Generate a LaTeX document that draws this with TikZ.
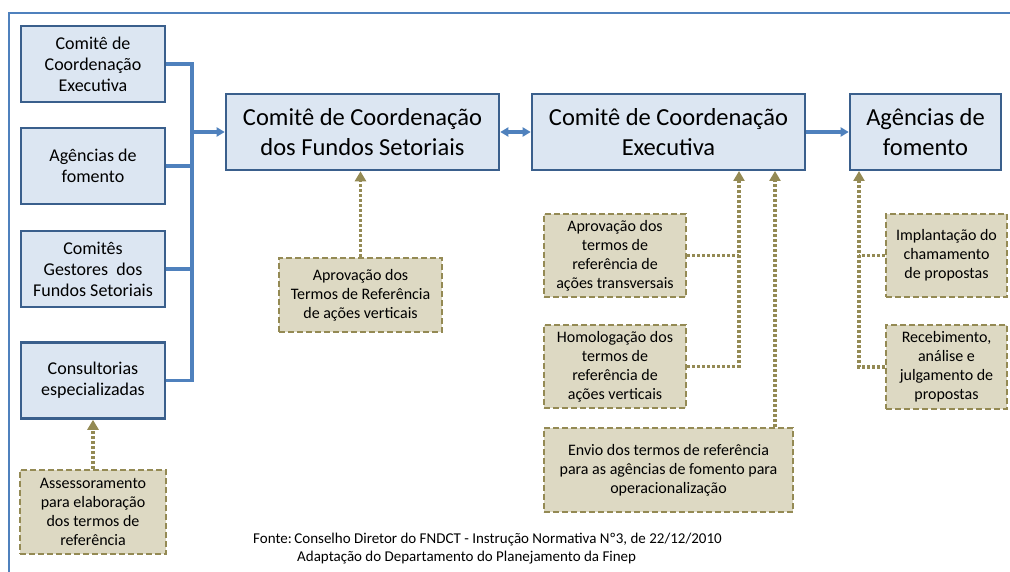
\documentclass[tikz,border=0pt]{standalone}
\usepackage{fontspec}
\setmainfont{Carlito}
\usetikzlibrary{arrows.meta}
\definecolor{bfill}{HTML}{DCE6F2}
\definecolor{bdraw}{HTML}{3A5F8C}
\definecolor{bline}{HTML}{4F81BD}
\definecolor{ofill}{HTML}{DDD9C3}
\definecolor{odraw}{HTML}{948A54}
\begin{document}
\begin{tikzpicture}[x=1pt,y=-1pt,
  bluebox/.style={draw=bdraw, fill=bfill, line width=2.6pt, align=center, inner sep=2pt},
  smallblue/.style={bluebox, minimum width=144pt, minimum height=76pt, font=\fontsize{18}{21}\selectfont},
  bigblue/.style={bluebox, minimum height=76pt, font=\fontsize{24.5}{30}\selectfont},
  tanbox/.style={draw=odraw, fill=ofill, line width=2.4pt, dash pattern=on 6pt off 3pt, align=center, inner sep=2pt, font=\fontsize{16}{19}\selectfont},
  busline/.style={draw=bline, line width=3.5pt},
  busarrow/.style={busline, -{Triangle[length=8pt,width=9pt]}},
  dotline/.style={draw=odraw, line width=3.5pt, dash pattern=on 3pt off 2pt},
  dotarrow/.style={dotline, -{Triangle[length=10pt,width=11pt]}}
]
\useasboundingbox (0,0) rectangle (1010,572);
\draw[bline, line width=2.5pt] (9,572) -- (9,13) -- (1010,13);

% left column
\node[smallblue] (b1) at (93,64) {Comitê de\\Coordenação\\Executiva};
\node[smallblue] (b2) at (93,166) {Agências de\\fomento};
\node[smallblue] (b3) at (93,269) {Comitês\\Gestores\ \ dos\\Fundos Setoriais};
\node[smallblue] (b4) at (93,380.5) {Consultorias\\especializadas};

% main row
\node[bigblue, minimum width=273pt] (c1) at (362.5,132) {Comitê de Coordenação\\dos Fundos Setoriais};
\node[bigblue, minimum width=273pt] (c2) at (668.5,132) {Comitê de Coordenação\\Executiva};
\node[bigblue, minimum width=151pt] (c3) at (925.5,132) {Agências de\\fomento};

% tan boxes
\node[tanbox, minimum width=163pt, minimum height=74pt] (A) at (360.5,295) {Aprovação dos\\Termos de Referência\\de ações verticais};
\node[tanbox, minimum width=142pt, minimum height=83pt] (T) at (615,255.5) {Aprovação dos\\termos de\\referência de\\ações transversais};
\node[tanbox, minimum width=142pt, minimum height=83pt] (H) at (615,366.5) {Homologação dos\\termos de\\referência de\\ações verticais};
\node[tanbox, minimum width=249pt, minimum height=84pt] (E) at (668.5,470) {Envio dos termos de referência\\para as agências de fomento para\\operacionalização};
\node[tanbox, minimum width=121pt, minimum height=83pt] (I) at (946.5,255.5) {Implantação do\\chamamento\\de propostas};
\node[tanbox, minimum width=121pt, minimum height=84pt] (R) at (946.5,367) {Recebimento,\\análise e\\julgamento de\\propostas};
\node[tanbox, minimum width=146pt, minimum height=84pt] (S) at (93,512) {Assessoramento\\para elaboração\\dos termos de\\referência};

% bus on the left
\coordinate (jt) at (192,64);
\coordinate (jb) at (192,380.5);
\draw[busline, line join=miter] (b1.east) -- (jt) -- (jb) -- (b4.east);
\draw[busline] (b2.east) -- (b2.east -| jt);
\draw[busline] (b3.east) -- (b3.east -| jt);
\draw[busarrow] (jt |- c1.west) -- (c1.west);

\draw[busline, {Triangle[length=8pt,width=9pt]}-{Triangle[length=8pt,width=9pt]}] (c1.east) -- (c2.west);
\draw[busarrow] (c2.east) -- (c3.west);

% olive connectors
\draw[dotarrow] (A.north) -- (A.north |- c1.south);
\coordinate (k1) at (739,171);
\coordinate (k2) at (775,171);
\coordinate (k3) at (859,171);
\draw[dotline] (T.east) -- (T.east -| k1);
\draw[dotarrow] (H.east) -| (k1);
\draw[dotarrow] (E.north -| k2) -- (k2);
\draw[dotline] (I.west) -- (I.west -| k3);
\draw[dotarrow] (R.west) -| (k3);
\draw[dotarrow] (S.north) -- (b4.south);

% source
\node[anchor=base west, inner sep=0pt, font=\fontsize{15}{17}\selectfont] (f1) at (253,543) {Fonte:\,Conselho Diretor do FNDCT - Instrução Normativa Nº3, de 22/12/2010};
\node[anchor=base west, inner sep=0pt, font=\fontsize{15}{17}\selectfont] (f2) at (297,561) {Adaptação do Departamento do Planejamento da Finep};
\end{tikzpicture}
\end{document}
